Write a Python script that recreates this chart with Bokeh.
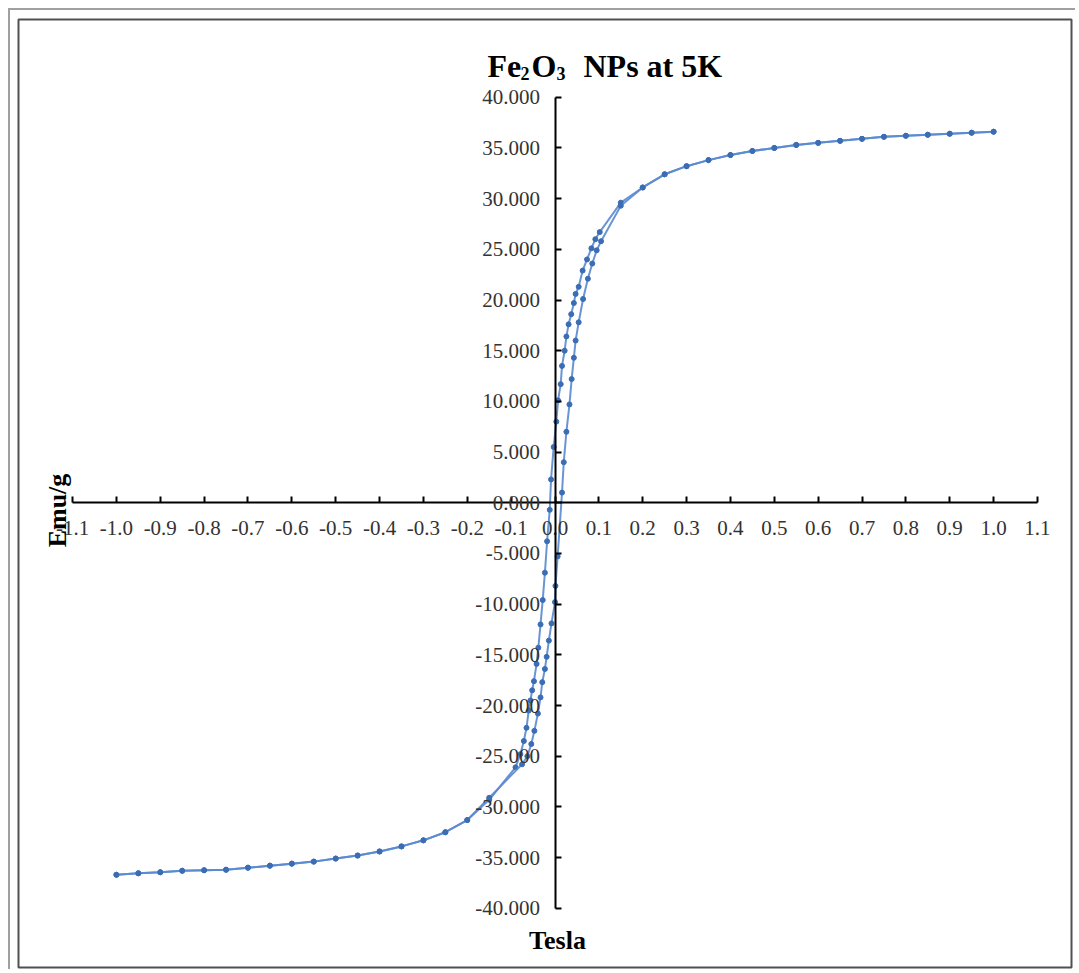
import math
from bokeh.plotting import figure
from bokeh.models import Range1d, FixedTicker, NumeralTickFormatter, Label
from bokeh.embed import file_html
from bokeh.resources import INLINE

# ---------------- data ----------------
# shared saturation parts of both branches
H_pos_outer = [0.20, 0.25, 0.30, 0.35, 0.40, 0.45, 0.50, 0.55, 0.60, 0.65,
               0.70, 0.75, 0.80, 0.85, 0.90, 0.95, 1.00]
M_pos_outer = [31.1, 32.4, 33.2, 33.8, 34.3, 34.7, 35.0, 35.3, 35.5, 35.7,
               35.9, 36.1, 36.2, 36.3, 36.4, 36.5, 36.6]
H_neg_outer = [-1.00, -0.95, -0.90, -0.85, -0.80, -0.75, -0.70, -0.65, -0.60,
               -0.55, -0.50, -0.45, -0.40, -0.35, -0.30, -0.25, -0.20]
M_neg_outer = [-36.7, -36.55, -36.45, -36.3, -36.25, -36.2, -36.0, -35.8, -35.6,
               -35.4, -35.1, -34.8, -34.4, -33.9, -33.3, -32.5, -31.3]

# descending branch, central part (from +0.15 T to -0.15 T)
H_down = [0.15, 0.102, 0.092, 0.083, 0.073, 0.063, 0.054, 0.047, 0.043, 0.037,
          0.031, 0.026, 0.022, 0.016, 0.013, 0.007, 0.003, -0.003, -0.009, -0.012,
          -0.018, -0.023, -0.028, -0.033, -0.038, -0.042, -0.048, -0.052, -0.056,
          -0.060, -0.065, -0.071, -0.079, -0.090, -0.15]
M_down = [29.6, 26.7, 26.0, 25.1, 24.0, 22.9, 21.3, 20.6, 19.7, 18.6,
          17.6, 16.4, 15.0, 13.5, 11.7, 10.1, 8.0, 5.5, 2.3, -0.7,
          -3.8, -6.9, -9.6, -12.0, -14.3, -15.9, -17.6, -18.5, -19.5,
          -20.5, -22.2, -23.5, -24.8, -26.1, -29.3]

# ascending branch, central part (from -0.15 T to +0.15 T)
H_up = [-0.15, -0.075, -0.063, -0.054, -0.047, -0.039, -0.033, -0.029, -0.023,
        -0.019, -0.014, -0.008, 0.000, 0.001, 0.006, 0.016, 0.020, 0.026, 0.033,
        0.038, 0.043, 0.047, 0.054, 0.064, 0.075, 0.085, 0.095, 0.105, 0.15]
M_up = [-29.1, -25.8, -25.0, -23.8, -22.5, -20.8, -19.2, -17.7, -16.4,
        -15.2, -13.6, -11.9, -9.8, -8.2, -5.3, 1.0, 4.0, 7.0, 9.7,
        12.2, 14.3, 16.0, 17.8, 20.1, 22.1, 23.6, 24.9, 25.8, 29.3]

X_TICKS = [-1.1, -1.0, -0.9, -0.8, -0.7, -0.6, -0.5, -0.4, -0.3, -0.2, -0.1, 0.0,
           0.1, 0.2, 0.3, 0.4, 0.5, 0.6, 0.7, 0.8, 0.9, 1.0, 1.1]
Y_TICKS = [-40, -35, -30, -25, -20, -15, -10, -5, 0, 5, 10, 15, 20, 25, 30, 35, 40]

TITLE_PARTS = ["Fe", "2", "O", "3", "NPs at 5K"]
X_LABEL = "Tesla"
Y_LABEL = "Emu/g"

# ---------------- geometry ----------------
CANVAS_LEFT, CANVAS_TOP = 10, 10          # page px of canvas origin (margin + border)
FL, FR, FT, FB = 18, 1071, 19, 967        # inner box (page px)
PX0, PXS = 554.5, 438.6                   # x=0 position, px per tesla
PY0, PYS = 502.25, 10.1375                # y=0 position, px per emu/g
X0, X1 = (FL - PX0) / PXS, (FR - PX0) / PXS
Y0, Y1 = (PY0 - FB) / PYS, (PY0 - FT) / PYS
W, H = 1067, 961


def dx(px):
    return (px - PX0) / PXS


def dy(py):
    return (PY0 - py) / PYS


H_desc = H_pos_outer[::-1] + H_down + H_neg_outer[::-1]
M_desc = M_pos_outer[::-1] + M_down + M_neg_outer[::-1]
H_asc = H_neg_outer + H_up + H_pos_outer
M_asc = M_neg_outer + M_up + M_pos_outer

p = figure(width=W, height=H, x_range=Range1d(X0, X1), y_range=Range1d(Y0, Y1),
           output_backend="svg", toolbar_location=None,
           min_border_left=FL - CANVAS_LEFT, min_border_top=FT - CANVAS_TOP,
           min_border_right=W - (FR - CANVAS_LEFT), min_border_bottom=H - (FB - CANVAS_TOP))
p.styles = {"margin-left": "8px", "margin-top": "8px",
            "border-top": "2px solid #a0a0a0", "border-left": "2px solid #a0a0a0"}
p.outline_line_color = "#505050"
p.outline_line_width = 2
p.xgrid.visible = False
p.ygrid.visible = False
p.background_fill_color = "white"
p.border_fill_color = "white"

for ax in (p.xaxis[0], p.yaxis[0]):
    ax.fixed_location = 0
    ax.axis_line_color = "black"
    ax.axis_line_width = 2
    ax.major_tick_line_color = "black"
    ax.major_tick_line_width = 2
    ax.major_tick_in = 6
    ax.major_tick_out = 0
    ax.minor_tick_line_color = None
    ax.major_label_text_font = "Liberation Serif"
    ax.major_label_text_font_size = "21px"
    ax.major_label_text_color = "#333333"

p.xaxis[0].ticker = FixedTicker(ticks=X_TICKS)
p.xaxis[0].formatter = NumeralTickFormatter(format="0.0")
p.xaxis[0].bounds = (X_TICKS[0], X_TICKS[-1])
p.xaxis[0].major_label_standoff = 18
p.yaxis[0].ticker = FixedTicker(ticks=Y_TICKS)
p.yaxis[0].formatter = NumeralTickFormatter(format="0.000")
p.yaxis[0].bounds = (Y_TICKS[0], Y_TICKS[-1])
p.yaxis[0].major_label_standoff = 15

LINE_C = "#5a8ad0"
MARK_C = "#3b6db5"
for hx, my in ((H_desc, M_desc), (H_asc, M_asc)):
    p.line(hx, my, line_color=LINE_C, line_width=2, line_alpha=0.9)
    p.scatter(hx, my, marker="circle", size=5, fill_color=MARK_C, line_color=MARK_C)

# title pieces: (left px, baseline px, size)
title_layout = [(487, 65, "32px"), (520, 73, "18px"), (531, 65, "32px"),
                (556, 73, "18px"), (583, 65, "32px")]
for txt, (lx, by, fs) in zip(TITLE_PARTS, title_layout):
    p.add_layout(Label(x=dx(lx), y=dy(by), text=txt, text_font="Liberation Serif",
                       text_font_style="bold", text_font_size=fs, text_color="black",
                       text_align="left", text_baseline="alphabetic"))

p.add_layout(Label(x=dx(557), y=dy(940), text=X_LABEL, text_font="Liberation Serif",
                   text_font_style="bold", text_font_size="26px", text_color="black",
                   text_align="center", text_baseline="middle"))
p.add_layout(Label(x=dx(57), y=dy(510), text=Y_LABEL, angle=math.pi / 2,
                   text_font="Liberation Serif", text_font_style="bold",
                   text_font_size="26px", text_color="black",
                   text_align="center", text_baseline="middle"))

open("out.html", "w").write(file_html(p, INLINE))
